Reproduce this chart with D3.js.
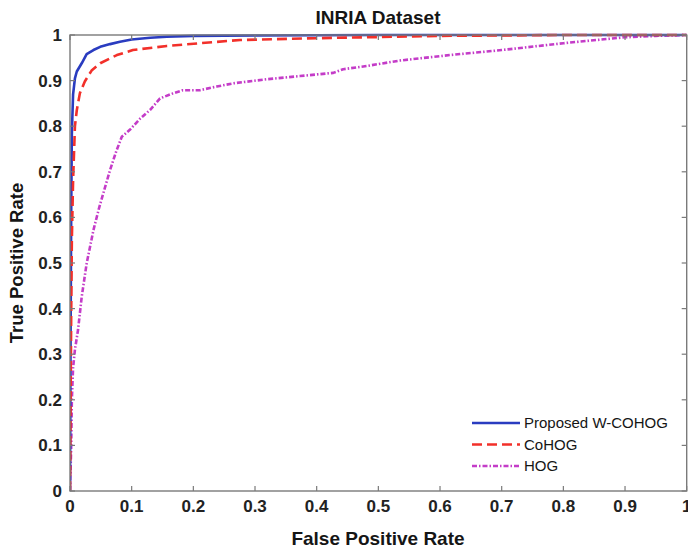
<!DOCTYPE html>
<html lang="en">
  <head>
    <meta charset="utf-8">
    <title>INRIA Dataset ROC</title>
    <script src="https://d3js.org/d3.v7.min.js"></script>
    <style>
      body { margin: 0; background: white; }
      svg { background: white; display: block; }
      text { font-family: "Liberation Sans", Arial, sans-serif; fill: #151515; }
      .tick-label { font-size: 17px; font-weight: bold; fill: #222; }
      .axis-title { font-size: 19px; font-weight: bold; }
      .legend-text { font-size: 15px; }
    </style>
  </head>
  <body>
    <script>
      var w = 688;
      var h = 551;

      // ticks
      var ticks = [0, 0.1, 0.2, 0.3, 0.4, 0.5, 0.6, 0.7, 0.8, 0.9, 1];
      var tickLabels = ["0", "0.1", "0.2", "0.3", "0.4", "0.5", "0.6", "0.7", "0.8", "0.9", "1"];

      // Proposed W-COHOG
      var wcohogFpr = [0, 0.001, 0.002, 0.003, 0.005, 0.008, 0.011, 0.019, 0.027, 0.038, 0.049, 0.065, 0.081, 0.10, 0.13, 0.157, 0.2, 0.3, 0.5, 0.7, 1.0];
      var wcohogTpr = [0, 0.35, 0.62, 0.784, 0.87, 0.905, 0.92, 0.938, 0.958, 0.967, 0.974, 0.980, 0.985, 0.990, 0.994, 0.996, 0.998, 0.999, 1, 1, 1];

      // CoHOG
      var cohogFpr = [0, 0.001, 0.002, 0.003, 0.005, 0.008, 0.011, 0.016, 0.024, 0.035, 0.049, 0.076, 0.102, 0.157, 0.211, 0.276, 0.4, 0.6, 0.8, 1.0];
      var cohogTpr = [0, 0.2, 0.4, 0.55, 0.68, 0.80, 0.835, 0.872, 0.898, 0.922, 0.938, 0.956, 0.967, 0.976, 0.982, 0.989, 0.993, 0.998, 1, 1];

      // HOG
      var hogFpr = [0, 0.002, 0.003, 0.005, 0.008, 0.013, 0.019, 0.027, 0.038, 0.047, 0.057, 0.065, 0.075, 0.084, 0.097, 0.114, 0.13, 0.146, 0.167, 0.183, 0.211, 0.238, 0.265, 0.319, 0.373, 0.427, 0.443, 0.481, 0.535, 0.589, 0.616, 0.70, 0.8, 0.9, 0.95, 1.0];
      var hogTpr = [0, 0.1, 0.2, 0.27, 0.31, 0.353, 0.426, 0.499, 0.572, 0.62, 0.667, 0.704, 0.745, 0.777, 0.792, 0.817, 0.836, 0.861, 0.872, 0.879, 0.879, 0.887, 0.894, 0.903, 0.910, 0.917, 0.925, 0.932, 0.944, 0.952, 0.956, 0.967, 0.982, 0.995, 0.998, 1];

      var seriesNames = ["Proposed W-COHOG", "CoHOG", "HOG"];
      var seriesFpr = [wcohogFpr, cohogFpr, hogFpr];
      var seriesTpr = [wcohogTpr, cohogTpr, hogTpr];
      var colors = ["#2a3cc0", "#f2302a", "#c43cc8"];
      var dashes = [null, "10,5", "5,2,1.5,2"];

      var mLeft = 70, mRight = 686.7, mTop = 35, mBottom = 491;

      var x = d3.scaleLinear().domain([0, 1]).range([mLeft, mRight]);
      var y = d3.scaleLinear().domain([0, 1]).range([mBottom, mTop]);

      var svg = d3.select("body").append("svg")
        .attr("width", w)
        .attr("height", h);

      // curves, clipped to the box
      svg.append("clipPath").attr("id", "plotClip")
        .append("rect")
        .attr("x", mLeft).attr("y", mTop - 2)
        .attr("width", mRight - mLeft).attr("height", mBottom - mTop + 2);

      var line = d3.line()
        .x(function(d) { return x(d[0]); })
        .y(function(d) { return y(d[1]); });

      var curves = svg.append("g").attr("clip-path", "url(#plotClip)");

      // draw HOG first, then W-COHOG, then CoHOG on top
      [2, 0, 1].forEach(function(i) {
        var pts = seriesFpr[i].map(function(f, k) { return [f, seriesTpr[i][k]]; });
        curves.append("path")
          .attr("d", line(pts))
          .attr("fill", "none")
          .attr("stroke", colors[i])
          .attr("stroke-width", 2.6)
          .attr("stroke-dasharray", dashes[i])
          .attr("stroke-linejoin", "round");
      });

      // box and inward ticks, MATLAB style
      var axisColor = "#7a7a7a";
      svg.append("rect")
        .attr("x", mLeft).attr("y", mTop)
        .attr("width", mRight - mLeft).attr("height", mBottom - mTop)
        .attr("fill", "none")
        .attr("stroke", axisColor)
        .attr("stroke-width", 1.4);

      var tl = 5;
      var tg = svg.append("g").attr("stroke", axisColor).attr("stroke-width", 1.2);
      ticks.forEach(function(t) {
        tg.append("line").attr("x1", x(t)).attr("x2", x(t)).attr("y1", mBottom).attr("y2", mBottom - tl);
        tg.append("line").attr("x1", x(t)).attr("x2", x(t)).attr("y1", mTop).attr("y2", mTop + tl);
        tg.append("line").attr("x1", mLeft).attr("x2", mLeft + tl).attr("y1", y(t)).attr("y2", y(t));
        tg.append("line").attr("x1", mRight).attr("x2", mRight - tl).attr("y1", y(t)).attr("y2", y(t));
      });

      // tick labels
      svg.append("g").selectAll("text")
        .data(ticks)
        .enter().append("text")
        .attr("class", "tick-label")
        .attr("x", function(d) { return x(d); })
        .attr("y", mBottom + 21)
        .attr("text-anchor", "middle")
        .text(function(d, i) { return tickLabels[i]; });

      svg.append("g").selectAll("text")
        .data(ticks)
        .enter().append("text")
        .attr("class", "tick-label")
        .attr("x", mLeft - 8)
        .attr("y", function(d) { return y(d) + 6; })
        .attr("text-anchor", "end")
        .text(function(d, i) { return tickLabels[i]; });

      // titles
      svg.append("text")
        .attr("class", "axis-title")
        .attr("x", 378).attr("y", 24)
        .attr("text-anchor", "middle")
        .text("INRIA Dataset");

      svg.append("text")
        .attr("class", "axis-title")
        .attr("x", 378).attr("y", 545)
        .attr("text-anchor", "middle")
        .text("False Positive Rate");

      svg.append("text")
        .attr("class", "axis-title")
        .style("font-size", "18.5px")
        .attr("transform", "translate(23,263) rotate(-90)")
        .attr("text-anchor", "middle")
        .text("True Positive Rate");

      // legend
      var legend = svg.append("g");
      seriesNames.forEach(function(name, i) {
        var ly = 423 + i * 21.5;
        legend.append("line")
          .attr("x1", 472).attr("x2", 520)
          .attr("y1", ly).attr("y2", ly)
          .attr("stroke", colors[i])
          .attr("stroke-width", 2.6)
          .attr("stroke-dasharray", dashes[i]);
        legend.append("text")
          .attr("class", "legend-text")
          .attr("x", 524).attr("y", ly + 5)
          .text(name);
      });
    </script>
  </body>
</html>
